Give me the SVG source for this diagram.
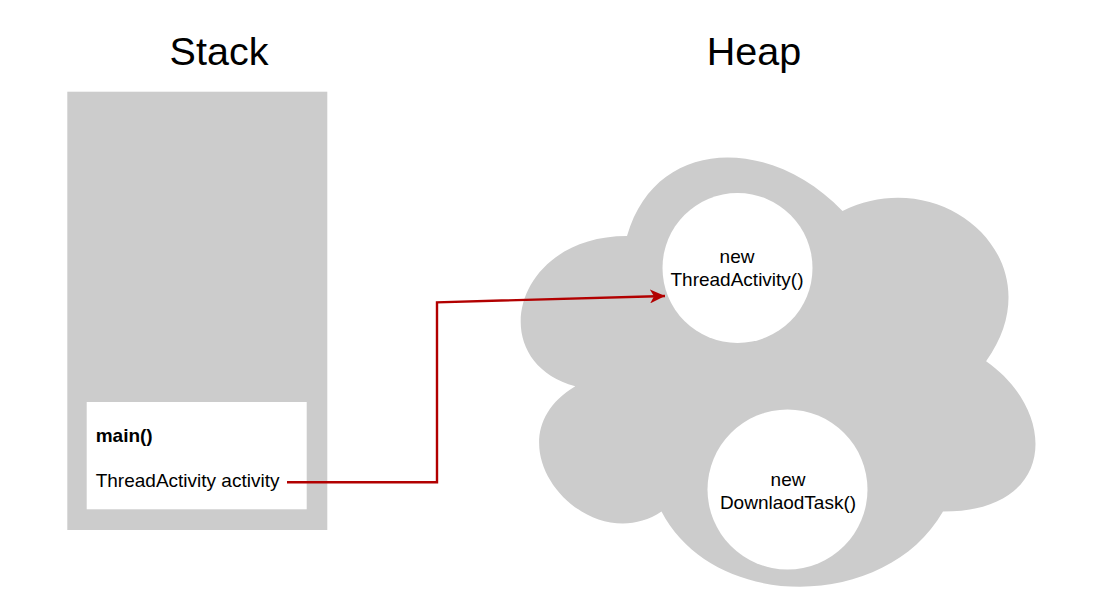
<svg xmlns="http://www.w3.org/2000/svg" width="1112" height="610" viewBox="0 0 1112 610">
  <style>
    text { font-family: "Liberation Sans", Arial, Helvetica, sans-serif; fill: #000000; }
    .title { font-size: 39.5px; text-anchor: middle; }
    .lbl { font-size: 19px; }
    .ctr { text-anchor: middle; }
    .gray { fill: #CCCCCC; stroke: none; }
    .white { fill: #FFFFFF; stroke: none; }
    .edge { fill: none; stroke: #B20000; stroke-width: 2.4; stroke-linejoin: miter; }
  </style>
  <defs>
    <marker id="arrow" markerUnits="userSpaceOnUse" markerWidth="16" markerHeight="14" viewBox="0 0 16 14" refX="15" refY="7" orient="auto">
      <path d="M15,7 L0,0 L4,7 L0,14 Z" fill="#B20000"/>
    </marker>
  </defs>
  <rect width="1112" height="610" fill="#FFFFFF"/>

  <g id="title-stack">
    <text class="title" x="219" y="65">Stack</text>
  </g>
  <g id="title-heap">
    <text class="title" x="754" y="65">Heap</text>
  </g>

  <g id="stack">
    <rect class="gray" x="67.3" y="91.7" width="260" height="438.3"/>
  </g>

  <g id="main-frame">
    <rect class="white" x="86.7" y="402" width="220" height="107.3"/>
    <text class="lbl" x="95.7" y="442" font-weight="bold">main()</text>
    <text class="lbl" x="95.7" y="487">ThreadActivity activity</text>
  </g>

  <g id="heap">
    <path class="gray" d="M627,236.05 C512.1,236.05 483.4,361.3 575.3,386.35 C483.4,441.5 586.8,561.7 661.5,511.6 C713.2,611.8 885.55,611.8 943,511.6 C1057.9,511.6 1057.9,411.4 986.1,361.3 C1057.9,261.1 943,160.9 842.5,211 C770.65,135.85 655.75,135.85 627,236.05 Z"/>
  </g>

  <g id="obj-thread-activity">
    <circle class="white" cx="737.5" cy="268" r="75"/>
    <text class="lbl ctr" x="737" y="263">new</text>
    <text class="lbl ctr" x="737" y="286">ThreadActivity()</text>
  </g>

  <g id="obj-download-task">
    <circle class="white" cx="787.5" cy="489.5" r="80"/>
    <text class="lbl ctr" x="788" y="486">new</text>
    <text class="lbl ctr" x="788" y="508.5">DownlaodTask()</text>
  </g>

  <g id="connectors">
    <path class="edge" d="M287,482.3 L437,482.3 L437,302.3 L665,296" marker-end="url(#arrow)"/>
  </g>
</svg>
